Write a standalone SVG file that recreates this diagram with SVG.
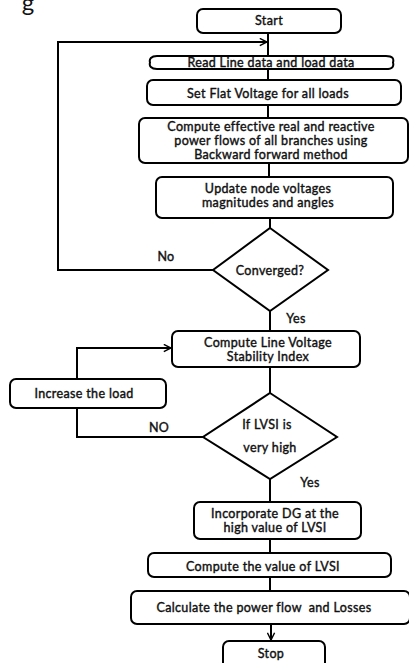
<svg xmlns="http://www.w3.org/2000/svg" width="409" height="663" viewBox="0 0 409 663">
  <style>
    .box { fill: #ffffff; stroke: #000000; stroke-width: 2; }
    .line { fill: none; stroke: #000000; stroke-width: 2; }
    text { font-family: Lato, "Liberation Sans", sans-serif; font-size: 12.5px; font-weight: 400; letter-spacing: 0.35px; fill: #111111; stroke: #111111; stroke-width: 0.4; text-anchor: middle; dominant-baseline: central; }
  </style>
  <defs>
    <marker id="arrow" viewBox="0 0 10 10" refX="9" refY="5" markerWidth="9" markerHeight="9" markerUnits="userSpaceOnUse" orient="auto">
      <path d="M1,1 L9,5 L1,9" fill="none" stroke="#000" stroke-width="1.6"/>
    </marker>
  </defs>
  <rect width="409" height="663" fill="#ffffff"/>

  <!-- fragment of the caption above -->
  <text x="28" y="1" style="font-size:24px;stroke:none;letter-spacing:0;">g</text>

  <!-- connectors -->
  <g id="connectors">
    <line class="line" x1="268" y1="33" x2="268" y2="56"/>
    <path class="line" d="M213,270 H58 V42 H267" marker-end="url(#arrow)"/>
    <line class="line" x1="268" y1="69" x2="268" y2="80"/>
    <line class="line" x1="268" y1="105" x2="268" y2="118"/>
    <line class="line" x1="269" y1="163" x2="269" y2="177"/>
    <line class="line" x1="270" y1="218" x2="270" y2="228"/>
    <line class="line" x1="270" y1="311" x2="270" y2="331"/>
    <line class="line" x1="270" y1="367" x2="270" y2="393"/>
    <path class="line" d="M77,379 V348 H171" marker-end="url(#arrow)"/>
    <path class="line" d="M77,408 V437 H203"/>
    <line class="line" x1="270" y1="479" x2="270" y2="502"/>
    <line class="line" x1="270" y1="539" x2="270" y2="553"/>
    <line class="line" x1="270" y1="577" x2="270" y2="591"/>
    <line class="line" x1="271" y1="624" x2="271" y2="640" marker-end="url(#arrow)"/>
    <text x="166" y="256">No</text>
    <text x="296" y="318">Yes</text>
    <text x="159" y="427">NO</text>
    <text x="310" y="482">Yes</text>
  </g>

  <g id="start">
    <rect class="box" x="197" y="9" width="144" height="24" rx="6"/>
    <text x="269" y="20">Start</text>
  </g>

  <g id="read-data">
    <path class="box" d="M157,56 H386 C393,56 394,59 393,62.5 C394,66 393,69 386,69 H157 C151,69 149,66 150,62.5 C149,59 151,56 157,56 Z"/>
    <text x="271" y="62.5">Read Line data and load data</text>
  </g>

  <g id="flat-voltage">
    <rect class="box" x="147" y="80" width="254" height="25" rx="6"/>
    <text x="268" y="93">Set Flat Voltage for all loads</text>
  </g>

  <g id="power-flows">
    <rect class="box" x="139" y="118" width="269" height="45" rx="6"/>
    <text x="271" y="126.5">Compute effective real and reactive</text>
    <text x="271" y="140.5">power flows of all branches using</text>
    <text x="271" y="154.5">Backward forward method</text>
  </g>

  <g id="update-voltages">
    <rect class="box" x="156" y="177" width="237" height="41" rx="6"/>
    <text x="268" y="188">Update node voltages</text>
    <text x="268" y="202">magnitudes and angles</text>
  </g>

  <g id="converged">
    <polygon class="box" points="270,228 328,270 270,311 213,270"/>
    <text x="270" y="270">Converged?</text>
  </g>

  <g id="lvsi">
    <rect class="box" x="172" y="331" width="188" height="36" rx="6"/>
    <text x="268" y="342">Compute Line Voltage</text>
    <text x="268" y="356">Stability Index</text>
  </g>

  <g id="increase-load">
    <rect class="box" x="10" y="379" width="156" height="29" rx="6"/>
    <text x="84" y="393">Increase the load</text>
  </g>

  <g id="lvsi-high">
    <polygon class="box" points="270,393 337,437 270,479 203,437"/>
    <text x="267" y="424">If LVSI is</text>
    <text x="270" y="447">very high</text>
  </g>

  <g id="incorporate-dg">
    <rect class="box" x="194" y="502" width="167" height="37" rx="6"/>
    <text x="275" y="513">Incorporate DG at the</text>
    <text x="275" y="527">high value of LVSI</text>
  </g>

  <g id="compute-lvsi">
    <rect class="box" x="148" y="553" width="243" height="24" rx="6"/>
    <text x="263" y="566">Compute the value of LVSI</text>
  </g>

  <g id="power-flow-losses">
    <rect class="box" x="131" y="591" width="279" height="33" rx="6"/>
    <text x="264" y="607" xml:space="preserve">Calculate the power flow  and Losses</text>
  </g>

  <g id="stop">
    <rect class="box" x="223" y="641" width="102" height="30" rx="6"/>
    <text x="271" y="653">Stop</text>
  </g>
</svg>
